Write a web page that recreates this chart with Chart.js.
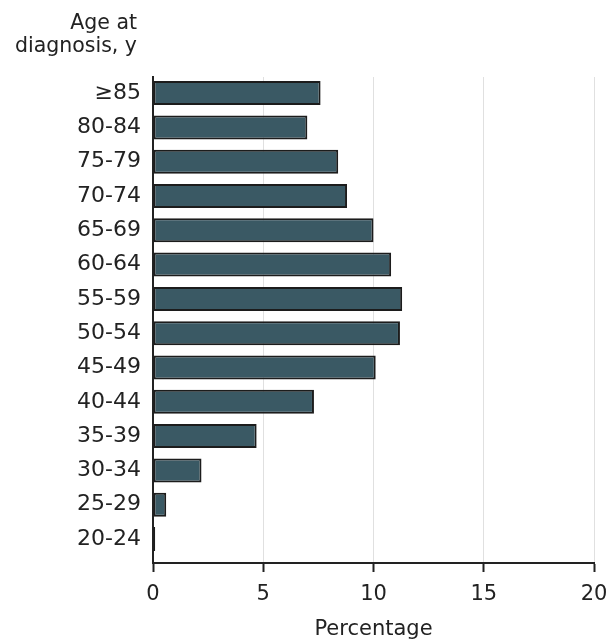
<!DOCTYPE html>
<html>
<head>
<meta charset="utf-8">
<script src="https://cdn.jsdelivr.net/npm/chart.js@4/dist/chart.umd.min.js"></script>
<style>
  html, body { margin: 0; padding: 0; background: #fff; }
  #wrap { width: 611px; height: 642px; }
</style>
</head>
<body>
<div id="wrap"><canvas id="c"></canvas></div>
<script>
// Age groups, top to bottom
const ageGroups = ['≥85', '80-84', '75-79', '70-74', '65-69', '60-64', '55-59',
                   '50-54', '45-49', '40-44', '35-39', '30-34', '25-29', '20-24'];
// Share of diagnoses in each age group, %
const percentages = [7.6, 7.0, 8.4, 8.8, 10.0, 10.8, 11.3, 11.2, 10.1, 7.3, 4.7, 2.2, 0.6, 0.1];
// Percentage axis ticks
const percentTicks = [0, 5, 10, 15, 20];
const ageAxisTitle = ['Age at', 'diagnosis, y'];
const percentAxisTitle = 'Percentage';

const FONT = "'DejaVu Sans', sans-serif";
const INK = '#222';

// Two-line title above the age labels, right-aligned with them
const ageTitlePlugin = {
  id: 'ageTitle',
  afterDraw(chart) {
    const ctx = chart.ctx;
    ctx.save();
    ctx.font = '20.5px ' + FONT;
    ctx.fillStyle = INK;
    ctx.textAlign = 'right';
    ctx.textBaseline = 'alphabetic';
    const x = chart.scales.y.right - 16;
    ageAxisTitle.forEach((line, i) => ctx.fillText(line, x, 29 + i * 23));
    ctx.restore();
  }
};

new Chart(document.getElementById('c'), {
  type: 'bar',
  data: {
    datasets: [{
      data: percentages.map((v, i) => ({ x: v, y: i })),
      backgroundColor: '#3a5964',
      borderColor: '#1c1c1c',
      borderWidth: 2,
      borderSkipped: false,
      barPercentage: 0.7,
      categoryPercentage: 1
    }]
  },
  options: {
    indexAxis: 'y',
    responsive: true,
    maintainAspectRatio: false,
    animation: false,
    layout: { padding: { top: 77, right: 17, left: 0, bottom: 0 } },
    plugins: { legend: { display: false }, tooltip: { enabled: false } },
    scales: {
      x: {
        type: 'linear',
        position: 'bottom',
        min: 0,
        max: 20,
        afterBuildTicks: s => { s.ticks = percentTicks.map(v => ({ value: v })); },
        afterFit: s => { s.height = 79; s.paddingLeft = 0; s.paddingRight = 0; },
        grid: { color: '#e0e0e0', lineWidth: 1, tickColor: INK, tickWidth: 2, tickLength: 9 },
        border: { color: INK, width: 2 },
        ticks: { font: { family: FONT, size: 21 }, color: INK, padding: 10 },
        title: {
          display: true, text: percentAxisTitle, color: INK,
          font: { family: FONT, size: 21 }, padding: { top: 0, bottom: 0 }
        }
      },
      y: {
        type: 'linear',
        reverse: true,
        offset: false,
        min: -0.47,
        max: 13.7,
        afterBuildTicks: s => { s.ticks = ageGroups.map((_, i) => ({ value: i })); },
        afterFit: s => { s.width = 153; s.paddingTop = 0; s.paddingBottom = 0; },
        grid: { display: false, drawTicks: false },
        border: { display: true, color: INK, width: 2 },
        ticks: {
          font: { family: FONT, size: 22 }, color: INK, padding: 12,
          callback: v => ageGroups[v]
        }
      }
    }
  },
  plugins: [ageTitlePlugin]
});
</script>
</body>
</html>
